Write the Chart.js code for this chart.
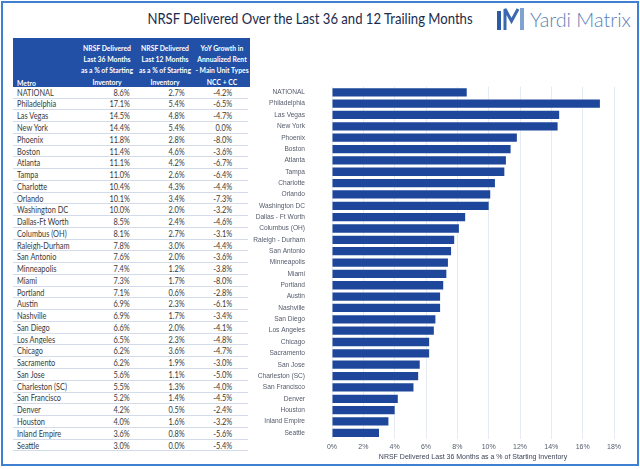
<!DOCTYPE html>
<html><head><meta charset="utf-8">
<script src="https://cdn.jsdelivr.net/npm/chart.js@4.4.0/dist/chart.umd.min.js"></script>
<style>
html,body{margin:0;padding:0;background:#fff;}
#wrap{position:relative;width:640px;height:469px;overflow:hidden;font-family:Lato,sans-serif;background:#fff;}
#frame{position:absolute;left:1px;top:1px;width:638px;height:465px;box-sizing:border-box;border:2px solid #3f80d2;}
.a{position:absolute;width:0;height:0;}
.a span{position:absolute;top:0;white-space:nowrap;line-height:1;}
#hdrbox{position:absolute;left:13px;top:38px;width:237px;height:49px;background:#2150a6;}
.ln{position:absolute;left:13px;width:235px;height:1px;background:#d3daea;}
#c{position:absolute;left:0;top:0;}
</style></head><body>
<div id="wrap">
<div id="frame"></div>
<div id="hdrbox"></div>
<svg style="position:absolute;left:0;top:0" width="640" height="40">
  <rect x="497" y="11" width="4" height="19" fill="#2b5aa6"/>
  <polyline points="505,30 505,9 511.5,21 518,9" fill="none" stroke="#3a68b0" stroke-width="3"/>
  <rect x="520" y="8" width="4" height="22" fill="#7fa2d2"/>
</svg>
<canvas id="c" width="640" height="469"></canvas>
</div>
<script>
const metros = ['NATIONAL','Philadelphia','Las Vegas','New York','Phoenix','Boston','Atlanta','Tampa','Charlotte','Orlando','Washington DC','Dallas-Ft Worth','Columbus (OH)','Raleigh-Durham','San Antonio','Minneapolis','Miami','Portland','Austin','Nashville','San Diego','Los Angeles','Chicago','Sacramento','San Jose','Charleston (SC)','San Francisco','Denver','Houston','Inland Empire','Seattle'];
const chartLabels = ['NATIONAL','Philadelphia','Las Vegas','New York','Phoenix','Boston','Atlanta','Tampa','Charlotte','Orlando','Washington DC','Dallas - Ft Worth','Columbus (OH)','Raleigh - Durham','San Antonio','Minneapolis','Miami','Portland','Austin','Nashville','San Diego','Los Angeles','Chicago','Sacramento','San Jose','Charleston (SC)','San Francisco','Denver','Houston','Inland Empire','Seattle'];
const delivered36 = [8.6,17.1,14.5,14.4,11.8,11.4,11.1,11.0,10.4,10.1,10.0,8.5,8.1,7.8,7.6,7.4,7.3,7.1,6.9,6.9,6.6,6.5,6.2,6.2,5.6,5.5,5.2,4.2,4.0,3.6,3.0];
const delivered12 = [2.7,5.4,4.8,5.4,2.8,4.6,4.2,2.6,4.3,3.4,2.0,2.4,2.7,3.0,2.0,1.2,1.7,0.6,2.3,1.7,2.0,2.3,3.6,1.9,1.1,1.3,1.4,0.5,1.6,0.8,0.0];
const yoyRent = [-4.2,-6.5,-4.7,0.0,-8.0,-3.6,-6.7,-6.4,-4.4,-7.3,-3.2,-4.6,-3.1,-4.4,-3.6,-3.8,-8.0,-2.8,-6.1,-3.4,-4.1,-4.8,-4.7,-3.0,-5.0,-4.0,-4.5,-2.4,-3.2,-5.6,-5.4];
const headMetro = 'Metro';
const head36 = ['NRSF Delivered','Last 36 Months','as a % of Starting','Inventory'];
const head12 = ['NRSF Delivered','Last 12 Months','as a % of Starting','Inventory'];
const headYoY = ['YoY Growth in','Annualized Rent','- Main Unit Types','NCC + CC'];
const chartTitle = 'NRSF Delivered Over the Last 36 and 12 Trailing Months';
const axisTitle = 'NRSF Delivered Last 36 Months as a % of Starting Inventory';
const brand = 'Yardi Matrix';

const wrap = document.getElementById('wrap');
function put(text, x, y, align, css, sx){
  const a = document.createElement('div'); a.className='a';
  a.style.left = x+'px'; a.style.top = y+'px';
  const s = document.createElement('span'); s.textContent = text;
  Object.assign(s.style, css);
  sx = sx || 1;
  if(align==='left'){ s.style.left='0'; s.style.transformOrigin='left center'; s.style.transform='translateY(-50%) scaleX('+sx+')'; }
  else if(align==='right'){ s.style.right='0'; s.style.transformOrigin='right center'; s.style.transform='translateY(-50%) scaleX('+sx+')'; }
  else { s.style.left='0'; s.style.transformOrigin='center center'; s.style.transform='translate(-50%,-50%) scaleX('+sx+')'; }
  a.appendChild(s); wrap.insertBefore(a, document.getElementById('c'));
  return s;
}
// title
const t = put(chartTitle, 310, 18, 'center', {fontSize:'16px', color:'#1c2b4c', fontFamily:'Lato'});
const tw = t.offsetWidth; t.style.transform='translate(-50%,-50%) scaleX('+(325/tw)+')';
const b = put(brand, 530, 19, 'left', {fontSize:'19px', color:'#5a7fb8', fontFamily:'Lato', fontWeight:'300'});
const bw = b.offsetWidth; b.style.transform='translateY(-50%) scaleX('+(101/bw)+')';
// header
const hc = {fontSize:'8px', color:'#fff', fontWeight:'bold', fontFamily:'Lato'};
const hy = [48.3,59.3,70.3,81.5];
for(let i=0;i<4;i++){
  put(head36[i],107,hy[i],'center',hc,0.85);
  put(head12[i],164.5,hy[i],'center',hc,0.85);
  put(headYoY[i],221.5,hy[i],'center',hc,0.85);
}
put(headMetro,17,82.5,'left',hc,0.85);
// rows
const rc = {fontSize:'9px', color:'#3a3a3a', fontFamily:'Lato'};
const fmt = v => v.toFixed(1)+'%';
for(let i=0;i<metros.length;i++){
  const y = 91.7 + i*11.76;
  put(metros[i],17,y,'left',rc,0.82);
  put(fmt(delivered36[i]),130,y,'right',rc,0.82);
  put(fmt(delivered12[i]),185,y,'right',rc,0.82);
  put(fmt(yoyRent[i]),232,y,'right',rc,0.82);
  const l = document.createElement('div'); l.className='ln'; l.style.top=(y+5.8)+'px';
  wrap.insertBefore(l, document.getElementById('c'));
}

const lab = {family:'"Liberation Sans", Arial, sans-serif', size:6.6};
const tick = {family:'"Liberation Sans", Arial, sans-serif', size:7};
new Chart(document.getElementById('c'), {
  type:'bar',
  data:{labels:chartLabels, datasets:[{data:delivered36, backgroundColor:'#1e479c', barPercentage:0.73, categoryPercentage:1}]},
  options:{
    indexAxis:'y', responsive:false, animation:false,
    layout:{padding:{left:230, top:86.6, right:26, bottom:8}},
    plugins:{legend:{display:false}, tooltip:{enabled:false}},
    scales:{
      y:{grid:{display:false}, border:{display:false},
         ticks:{padding:19, color:'#555b6b', font:lab, autoSkip:false},
         afterFit(s){ s.width = 102; }},
      x:{min:0, max:18,
         ticks:{stepSize:2, callback:v=>v+'%', color:'#555b6b', font:tick, padding:4},
         grid:{color:'#e7ebf4', drawTicks:false}, border:{display:false},
         title:{display:true, text:axisTitle, color:'#3d4458', font:tick, padding:{top:2,bottom:0}},
         afterFit(s){ s.height = 22.5; }}
    }
  }
});
</script>
</body></html>
